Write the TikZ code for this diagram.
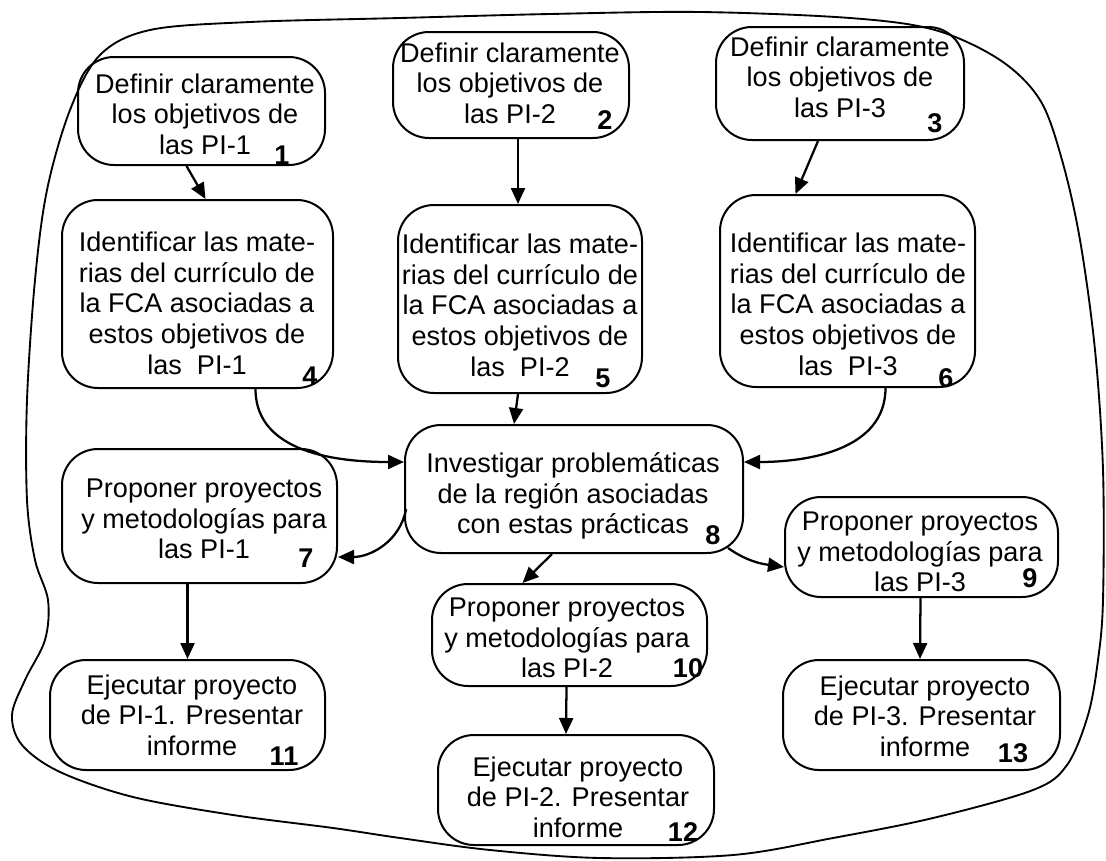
\documentclass[tikz,border=0pt]{standalone}
\usepackage{fontspec}
\setmainfont{Liberation Sans}
\usetikzlibrary{arrows.meta,calc}
\begin{document}
\begin{tikzpicture}[x=0.75pt,y=0.75pt,
  bx/.style 2 args={draw, line width=1.5pt, rounded corners=27pt, minimum width={#1*0.75pt}, minimum height={#2*0.75pt}, inner sep=0pt},
  txt/.style={align=center, font=\fontsize{20.3pt}{23pt}\selectfont, inner sep=0pt},
  num/.style={font=\fontsize{20.3pt}{23pt}\selectfont\bfseries, inner sep=0pt},
  arr/.style={line width=1.7pt, -{Triangle[length=12pt,width=10.5pt]}},
  outline/.style={line width=1.4pt}]
\useasboundingbox (0,0) rectangle (1106,-860);

% outer border
\draw[outline] plot[smooth cycle, tension=0.55] coordinates {
 (70,-110) (100,-55) (150,-30) (250,-22) (400,-18) (550,-14) (700,-12) (850,-18)
 (935,-30) (1000,-60) (1040,-100) (1062,-160) (1080,-240) (1095,-350) (1103,-470)
 (1103,-600) (1098,-660) (1088,-715) (1067,-765) (1033,-790) (933,-818) (833,-838)
 (733,-855) (600,-858) (490,-850) (400,-838) (333,-828) (233,-815) (133,-797)
 (60,-772) (22,-745) (12,-715) (25,-680) (45,-640) (48,-600) (35,-560) (27,-500)
 (27,-400) (35,-280) (47,-190)};

% boxes
\node[bx={247}{108}] (b1) at (201.5,-111) {};
\node[bx={236}{106}] (b2) at (511,-85) {};
\node[bx={248}{113}] (b3) at (840,-83.5) {};
\node[bx={271}{188}] (b4) at (197.5,-294) {};
\node[bx={244}{188}] (b5) at (520,-299) {};
\node[bx={255}{192}] (b6) at (847.5,-291) {};
\node[bx={338}{128}] (b8) at (574,-489) {};
\node[bx={275}{134}] (b7) at (199.5,-516) {};
\node[bx={273}{100}] (b9) at (921.5,-547) {};
\node[bx={275}{102}] (b10) at (569.5,-635) {};
\node[bx={275}{110}] (b11) at (187.5,-715) {};
\node[bx={276}{110}] (b12) at (576,-790) {};
\node[bx={277}{110}] (b13) at (921.5,-715) {};

% texts
\node[txt] (t1) at (205,-114) {Definir claramente\\los objetivos de\\las PI-1};
\node[txt] (t2) at (510,-83) {Definir claramente\\los objetivos de\\las PI-2};
\node[txt] (t3) at (840,-77) {Definir claramente\\los objetivos de\\las PI-3};
\node[txt] (t4) at (197,-303) {Identificar las mate-\\rias del currículo de\\la FCA asociadas a\\estos objetivos de\\las\ \ PI-1};
\node[txt] (t5) at (520,-305) {Identificar las mate-\\rias del currículo de\\la FCA asociadas a\\estos objetivos de\\las\ \ PI-2};
\node[txt] (t6) at (848,-304) {Identificar las mate-\\rias del currículo de\\la FCA asociadas a\\estos objetivos de\\las\ \ PI-3};
\node[txt] (t8) at (573,-496) {Investigar problemáticas\\de la región asociadas\\con estas prácticas};
\node[txt] (t7) at (204,-519) {Proponer proyectos\\y metodologías para\\las PI-1};
\node[txt] (t9) at (920,-552) {Proponer proyectos\\y metodologías para\\las PI-3};
\node[txt] (t10) at (567,-638) {Proponer proyectos\\y metodologías para\\las PI-2};
\node[txt] (t11) at (192,-715) {Ejecutar proyecto\\de PI-1. Presentar\\informe};
\node[txt] (t12) at (578,-797) {Ejecutar proyecto\\de PI-2. Presentar\\informe};
\node[txt] (t13) at (925,-716) {Ejecutar proyecto\\de PI-3. Presentar\\informe};

% numbers
\node[num] (n1) at (282,-155) {1};
\node[num] (n2) at (605,-120) {2};
\node[num] (n3) at (935,-123) {3};
\node[num] (n4) at (310,-376) {4};
\node[num] (n5) at (603,-378) {5};
\node[num] (n6) at (946,-378) {6};
\node[num] (n7) at (306,-558) {7};
\node[num] (n8) at (713,-535) {8};
\node[num] (n9) at (1030,-578) {9};
\node[num] (n10) at (688,-668) {10};
\node[num] (n11) at (284,-756) {11};
\node[num] (n12) at (683,-832) {12};
\node[num] (n13) at (1013,-753) {13};

% connectors
\draw[arr] ($(b1.south)+(-15,0)$) -- ($(b4.north)+(8,0)$);
\draw[arr] ($(b2.south)+(7,0)$) -- ($(b5.north)+(-2,0)$);
\draw[arr] ($(b3.south)+(-22,0)$) -- ($(b6.north)+(-52,0)$);
\draw[arr] ($(b4.south)+(58,0)$) to[out=-90,in=180] ($(b8.west)+(0,27)$);
\draw[arr] ($(b5.south)+(-2,0)$) -- ($(b8.north)+(-60,0)$);
\draw[arr] ($(b6.south)+(38,0)$) to[out=-90,in=0] ($(b8.east)+(0,27)$);
\draw[arr] ($(b8.west)+(2,-20)$) to[out=-100,in=0] ($(b7.east)+(0,-41)$);
\draw[arr] ($(b8.south east)+(-16,6)$) to[out=-35,in=172] ($(b9.west)+(0,-20)$);
\draw[arr] ($(b8.south)+(-22,0)$) -- ($(b10.north)+(-47,0)$);
\draw[arr] ($(b7.south)+(-12,0)$) -- (b11.north);
\draw[arr] ($(b9.south)+(-1,0)$) -- ($(b13.north)+(-1.5,0)$);
\draw[arr] ($(b10.south)+(-3,0)$) -- ($(b12.north)+(-10,0)$);
\end{tikzpicture}
\end{document}
